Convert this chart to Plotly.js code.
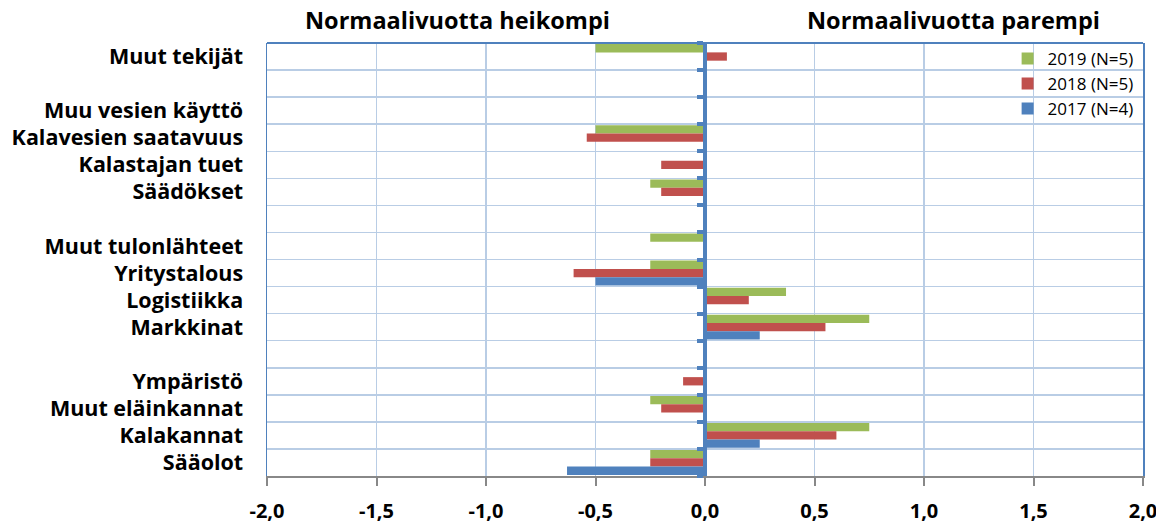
<!DOCTYPE html>
<html>
<head>
<meta charset="utf-8">
<script src="https://cdn.plot.ly/plotly-3.0.1.min.js"></script>
<style>html,body{margin:0;padding:0;background:#fff;}#chart{width:1156px;height:525px;}</style>
</head>
<body>
<div id="chart"></div>
<script>
// Categories, top to bottom (blank rows are spacer categories)
const categories = ["Muut tekijät", " ", "Muu vesien käyttö", "Kalavesien saatavuus", "Kalastajan tuet", "Säädökset", "  ",
  "Muut tulonlähteet", "Yritystalous", "Logistiikka", "Markkinat", "   ", "Ympäristö", "Muut eläinkannat", "Kalakannat", "Sääolot"];
const values2019 = [-0.5, null, null, -0.5, null, -0.25, null, -0.25, -0.25, 0.37, 0.75, null, null, -0.25, 0.75, -0.25];
const values2018 = [0.1, null, null, -0.54, -0.2, -0.2, null, null, -0.6, 0.2, 0.55, null, -0.1, -0.2, 0.6, -0.25];
const values2017 = [null, null, null, null, null, null, null, null, -0.5, null, 0.25, null, null, null, 0.25, -0.63];
const seriesNames = ["2019 (N=5)", "2018 (N=5)", "2017 (N=4)"];
const xTicks = [-2, -1.5, -1, -0.5, 0, 0.5, 1, 1.5, 2];
const xTickLabels = ["-2,0", "-1,5", "-1,0", "-0,5", "0,0", "0,5", "1,0", "1,5", "2,0"];
const headings = ["Normaalivuotta heikompi", "Normaalivuotta parempi"];

const FONT = "'Open Sans', Lato, sans-serif";
const colors = ["#9bbb59", "#c0504d", "#4f81bd"];
const series = [values2019, values2018, values2017];

const traces = series.map((vals, i) => ({
  type: "bar", orientation: "h", name: seriesNames[i],
  x: vals, y: categories, xaxis: "x", yaxis: "y",
  marker: {color: colors[i], line: {width: 0}},
  hoverinfo: "x+name"
}));
// category boundaries (index space) for the tick marks on the zero axis
const n = categories.length;
const boundaries = categories.map((c, i) => i - 0.5).concat([n - 0.5]);
// invisible helper trace so the zero-position axis is drawn
traces.push({type: "scatter", mode: "markers", x: categories.map(() => 0), y: categories.map((c, i) => i),
  yaxis: "y2", marker: {opacity: 0}, showlegend: false, hoverinfo: "skip"});

const layout = {
  width: 1156, height: 525,
  margin: {l: 267, r: 13, t: 43, b: 49},
  paper_bgcolor: "#ffffff", plot_bgcolor: "#ffffff",
  barmode: "group", bargap: 0.08, bargroupgap: 0,
  showlegend: true,
  legend: {x: 0.995, xanchor: "right", y: 1.005, yanchor: "top", bgcolor: "rgba(0,0,0,0)",
    font: {family: FONT, size: 17, color: "#000"}, tracegroupgap: 0, itemwidth: 30},
  xaxis: {
    range: [-2, 2], tickmode: "array", tickvals: xTicks, ticktext: xTickLabels,
    ticklabeloverflow: "allow", ticklabelstandoff: 8,
    showgrid: true, gridcolor: "#b9cde5", gridwidth: 1.5,
    zeroline: false, showline: true, linecolor: "#888888", linewidth: 2,
    ticks: "outside", ticklen: 8, tickwidth: 2, tickcolor: "#888888",
    tickfont: {family: FONT, size: 20, color: "#000", weight: "bold"},
    fixedrange: true
  },
  yaxis: {
    type: "category", categoryorder: "array", categoryarray: categories,
    autorange: "reversed", tickson: "boundaries", ticks: "",
    showgrid: true, gridcolor: "#b9cde5", gridwidth: 1.5,
    showline: true, linecolor: "#4f81bd", linewidth: 1.5, mirror: true,
    zeroline: false, ticklabelstandoff: 18,
    tickfont: {family: FONT, size: 21.5, color: "#000", weight: "bold"},
    fixedrange: true
  },
  yaxis2: {
    type: "linear", range: [n - 0.5, -0.5], overlaying: "y", anchor: "free", position: 0.5, side: "left",
    tickmode: "array", tickvals: boundaries, ticks: "outside", ticklen: 6, tickwidth: 4, tickcolor: "#4f81bd",
    showline: true, linecolor: "#4f81bd", linewidth: 4,
    showgrid: false, zeroline: false, showticklabels: false, layer: "above traces",
    fixedrange: true
  },
  shapes: [
    {type: "line", xref: "paper", yref: "paper", x0: 0, x1: 1, y0: 1, y1: 1,
      line: {color: "#4f81bd", width: 2}}
  ],
  annotations: [
    {text: headings[0], xref: "paper", yref: "paper", x: 0.218, y: 1.053, xanchor: "center", yanchor: "middle",
      showarrow: false, font: {family: FONT, size: 23.5, color: "#000", weight: "bold"}},
    {text: headings[1], xref: "paper", yref: "paper", x: 0.784, y: 1.053, xanchor: "center", yanchor: "middle",
      showarrow: false, font: {family: FONT, size: 23.5, color: "#000", weight: "bold"}}
  ]
};

Plotly.newPlot("chart", traces, layout, {displayModeBar: false, staticPlot: true});
</script>
</body>
</html>
